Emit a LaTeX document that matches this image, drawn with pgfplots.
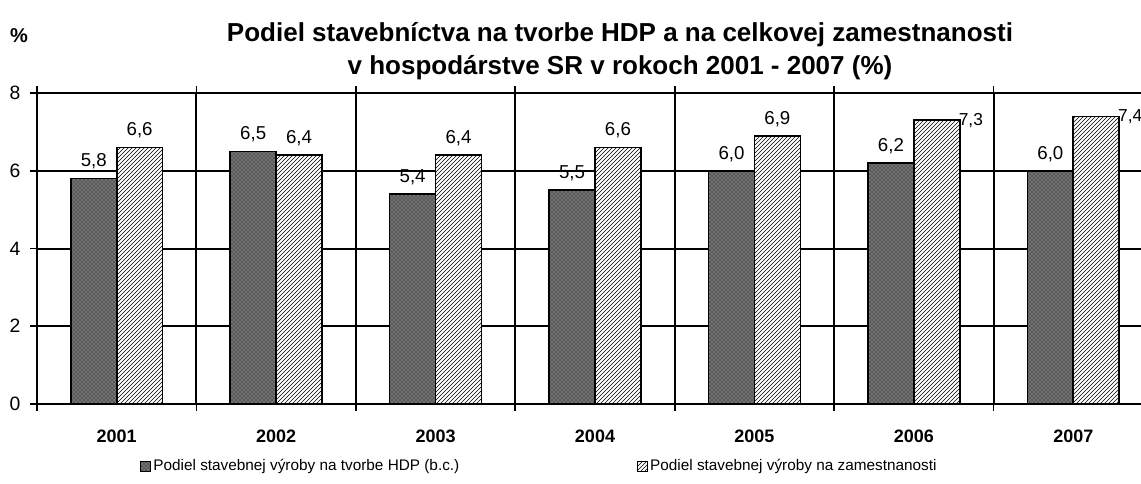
\documentclass[border=0pt]{standalone}
\usepackage{pgfplots}
\pgfplotsset{compat=1.18}
\usepackage{fontspec}
\setmainfont{Liberation Sans}
\usetikzlibrary{patterns}

\begin{document}
\begin{tikzpicture}
\begin{axis}[
  scale only axis,
  width=837pt, height=233.25pt,
  xmin=-0.5, xmax=6.5, ymin=0, ymax=8,
  clip=false,
  /pgf/number format/assume math mode=true,
  ytick={0,2,4,6,8},
  yticklabel style={font=\fontsize{14.5}{16}\selectfont, xshift=-4pt},
  xtick={-0.5,0.5,1.5,2.5,3.5,4.5,5.5,6.5},
  xticklabels={},
  xmajorgrids, ymajorgrids,
  grid style={black, line width=1.5pt},
  major grid style={black, line width=1.5pt},
  axis line style={black, line width=1.5pt},
  tick align=outside,
  major tick length=5pt,
  tick style={black, line width=1.3pt},
  extra x ticks={0,1,2,3,4,5,6},
  extra x tick labels={2001,2002,2003,2004,2005,2006,2007},
  extra x tick style={grid=none, major tick length=0pt,
     tick label style={font=\bfseries\fontsize{13.5}{15}\selectfont, yshift=-16pt}},
  title={Podiel stavebníctva na tvorbe HDP a na celkovej zamestnanosti\\v hospodárstve SR v rokoch 2001 - 2007 (\%)},
  title style={font=\bfseries\fontsize{19.5}{24.75}\selectfont, align=center, at={(0.5224,1.108)}, anchor=center},
  legend columns=2,
  legend style={at={(0.092,-0.1995)}, anchor=west, draw=none, font=\fontsize{11.5}{14}\selectfont,
     /tikz/every even column/.append style={column sep=131pt},
     cells={anchor=west}, inner sep=0pt},
  legend image code/.code={\draw[#1, line width=0.6pt] (0pt,-3.75pt) rectangle (7.5pt,3.75pt);},
  nodes near coords style={font=\fontsize{14}{16}\selectfont, black},
]
\addplot[ybar, bar width=0.288, bar shift=-0.144, draw=black, line width=1.2pt,
  fill=black!55, postaction={pattern=crosshatch dots, pattern color=black},
  nodes near coords={\pgfmathprintnumber[fixed, fixed zerofill, precision=1, use comma]{\pgfplotspointmeta}},
  every node near coord/.append style={xshift=-17.2pt, yshift=3pt}]
  coordinates {(0,5.8) (1,6.5) (2,5.4) (3,5.5) (4,6.0) (5,6.2) (6,6.0)};
\addlegendentry{Podiel stavebnej výroby na tvorbe HDP (b.c.)}
\addplot[ybar, bar width=0.288, bar shift=0.144, draw=black, line width=1.2pt,
  fill=white, postaction={pattern=north east lines, pattern color=black},
  nodes near coords={\pgfmathprintnumber[fixed, fixed zerofill, precision=1, use comma]{\pgfplotspointmeta}},
  every node near coord/.append style={xshift=17.2pt, yshift=3pt}]
  coordinates {(0,6.6) (1,6.4) (2,6.4) (3,6.6) (4,6.9)};
\addlegendentry{Podiel stavebnej výroby na zamestnanosti}
\addplot[ybar, bar width=0.288, bar shift=0.144, draw=black, line width=1.2pt, forget plot,
  fill=white, postaction={pattern=north east lines, pattern color=black},
  nodes near coords={\pgfmathprintnumber[fixed, fixed zerofill, precision=1, use comma]{\pgfplotspointmeta}},
  every node near coord/.append style={anchor=west, xshift=32.6pt, yshift=0pt, inner xsep=0.5pt, font=\fontsize{13}{15}\selectfont}]
  coordinates {(5,7.3) (6,7.4)};
\node[font=\bfseries\fontsize{15}{18}\selectfont] at (rel axis cs:-0.016,1.186) {\%};
\coordinate (bl) at (rel axis cs:0,0);
\end{axis}
\pgfresetboundingbox
\useasboundingbox ([xshift=-27.75pt,yshift=-60pt]bl) rectangle ([xshift=828pt,yshift=303pt]bl);
\end{tikzpicture}
\end{document}
